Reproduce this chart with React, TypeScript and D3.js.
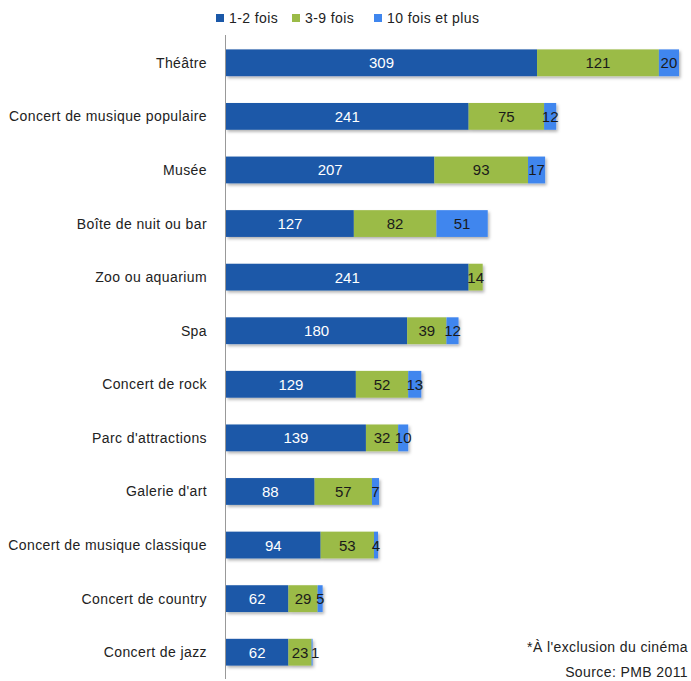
import React from "react";
import * as d3 from "d3";

const categories = [
  "Théâtre",
  "Concert de musique populaire",
  "Musée",
  "Boîte de nuit ou bar",
  "Zoo ou aquarium",
  "Spa",
  "Concert de rock",
  "Parc d'attractions",
  "Galerie d'art",
  "Concert de musique classique",
  "Concert de country",
  "Concert de jazz",
];
const fois12 = [309, 241, 207, 127, 241, 180, 129, 139, 88, 94, 62, 62];
const fois39 = [121, 75, 93, 82, 14, 39, 52, 32, 57, 53, 29, 23];
const fois10 = [20, 12, 17, 51, 0, 12, 13, 10, 7, 4, 5, 1];
const seriesNames = ["1-2 fois", "3-9 fois", "10 fois et plus"];
const colors = ["#1B58A8", "#9BBB47", "#3F86EE"];
const labelColors = ["#ffffff", "#1a1a1a", "#1a1a1a"];

const W = 691;
const H = 681;
const FONT = "'Liberation Sans', Arial, sans-serif";

export default function App() {
  const x0 = 226;
  const x = d3.scaleLinear().domain([0, 450]).range([x0, x0 + 453]);
  const y = d3.scaleBand().domain(categories).range([36, 679]).paddingInner(0.5).paddingOuter(0.25);
  const series = [fois12, fois39, fois10];
  const rows = categories.map((c, i) => {
    let acc = 0;
    return series.map((s, k) => {
      const start = acc;
      acc += s[i];
      return { k, start, end: acc, v: s[i] };
    });
  });
  const legendX = [216, 292, 374];
  return (
    <svg width={W} height={H} style={{ position: "absolute", left: 0, top: 0, background: "#fff" }}>
      <defs>
        <filter id="sh" x="-5%" y="-20%" width="110%" height="160%">
          <feDropShadow dx="1.5" dy="2" stdDeviation="1.5" floodColor="#000" floodOpacity="0.3" />
        </filter>
      </defs>
      {seriesNames.map((n, k) => (
        <g key={n}>
          <rect x={legendX[k]} y={14} width={8} height={8} fill={colors[k]} />
          <text x={legendX[k] + 13} y={23} fontFamily={FONT} fontSize={14} letterSpacing={0.4} fill="#222">
            {n}
          </text>
        </g>
      ))}
      <line x1={x0 - 0.5} x2={x0 - 0.5} y1={35} y2={679} stroke="#999" strokeWidth={1} />
      {categories.map((c, i) => {
        const yy = y(c)!;
        const bw = y.bandwidth();
        return (
          <g key={c}>
            <text x={207} y={yy + bw / 2 + 5} textAnchor="end" fontFamily={FONT} fontSize={14} letterSpacing={0.4} fill="#222">
              {c}
            </text>
            <g filter="url(#sh)">
              {rows[i].map((seg) =>
                seg.v > 0 ? (
                  <rect key={seg.k} x={x(seg.start)} y={yy} width={x(seg.end) - x(seg.start)} height={bw} fill={colors[seg.k]} />
                ) : null
              )}
            </g>
            {rows[i].map((seg) =>
              seg.v > 0 ? (
                <text
                  key={"t" + seg.k}
                  x={(x(seg.start) + x(seg.end)) / 2 + (seg.v < 3 ? 3 : 0)}
                  y={yy + bw / 2 + 5.5}
                  textAnchor="middle"
                  fontFamily={FONT}
                  fontSize={15}
                  fill={labelColors[seg.k]}
                >
                  {seg.v}
                </text>
              ) : null
            )}
          </g>
        );
      })}
      <text x={688} y={652} textAnchor="end" fontFamily={FONT} fontSize={14} letterSpacing={0.4} fill="#222">
        *À l'exclusion du cinéma
      </text>
      <text x={688} y={677} textAnchor="end" fontFamily={FONT} fontSize={14} letterSpacing={0.4} fill="#222">
        Source: PMB 2011
      </text>
    </svg>
  );
}
